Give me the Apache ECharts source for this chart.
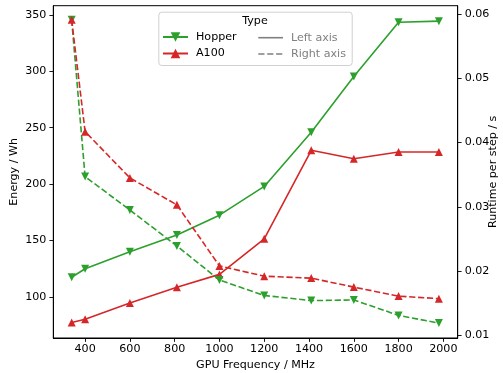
<!DOCTYPE html>
<html>
<head>
<meta charset="utf-8">
<script src="https://cdn.jsdelivr.net/npm/echarts@6/dist/echarts.min.js"></script>
<style>
html,body{margin:0;padding:0;background:#fff;}
#chart{width:503px;height:373px;}
</style>
</head>
<body>
<div id="chart"></div>
<script>
const freq = [340, 400, 600, 810, 1000, 1200, 1410, 1600, 1800, 1980];
const hopperEnergy = [117.5, 125, 140, 155, 172.5, 198, 246, 295.5, 343.5, 344.5];
const a100Energy = [77.4, 80.3, 94.6, 108.5, 120, 151.5, 230, 222.5, 228.5, 228.5];
const hopperRuntime = [0.0591, 0.0347, 0.0295, 0.0239, 0.0186, 0.0162, 0.0154, 0.0155, 0.0131, 0.0119];
const a100Runtime = [0.0591, 0.0417, 0.0345, 0.0303, 0.0208, 0.0192, 0.0189, 0.0175, 0.0161, 0.0157];
const xTicks = [400, 600, 800, 1000, 1200, 1400, 1600, 1800, 2000];
const energyTicks = [100, 150, 200, 250, 300, 350];
const runtimeTicks = [0.01, 0.02, 0.03, 0.04, 0.05, 0.06];

const GREEN = '#2ca02c', RED = '#d62728', GRAY = '#808080';
const FONT = 'DejaVu Sans';
const FS = 11.1;
const pairs = (xs, ys) => xs.map((x, i) => [x, ys[i]]);

const chart = echarts.init(document.getElementById('chart'), null, {renderer: 'canvas'});

function mkSeries(name, data, color, yIdx, dashed, down) {
  return {
    name: name, type: 'line', data: data, xAxisIndex: 0, yAxisIndex: yIdx,
    symbol: 'triangle', symbolSize: 8, symbolRotate: down ? 180 : 0,
    showSymbol: true, animation: false,
    lineStyle: {color: color, width: 1.6, type: dashed ? [6.2, 2.7] : 'solid'},
    itemStyle: {color: color},
    emphasis: {disabled: true}
  };
}

const axisCommon = {
  axisLine: {show: true, lineStyle: {color: '#000', width: 1}},
  axisTick: {show: true, inside: false, length: 3.9, lineStyle: {color: '#000', width: 0.9}},
  splitLine: {show: false},
  nameMoveOverlap: false,
  nameTextStyle: {fontFamily: FONT, fontSize: FS, color: '#000'}
};

const option = {
  backgroundColor: '#fff',
  animation: false,
  grid: {left: 53.3, right: 45.3, top: 5.7, bottom: 35, show: true, borderColor: '#000', borderWidth: 1,
    containLabel: false, outerBoundsMode: 'none'},
  xAxis: [Object.assign({}, axisCommon, {
    type: 'value', min: 258, max: 2064,
    name: 'GPU Frequency / MHz', nameLocation: 'middle', nameGap: 22,
    axisTick: Object.assign({}, axisCommon.axisTick, {customValues: xTicks}),
    axisLabel: {customValues: xTicks, fontFamily: FONT, fontSize: FS, color: '#000', margin: 6,
      formatter: v => String(v)}
  })],
  yAxis: [
    Object.assign({}, axisCommon, {
      type: 'value', position: 'left', min: 63.6, max: 358.2,
      name: 'Energy / Wh', nameLocation: 'middle', nameGap: 34, nameRotate: 90,
      axisTick: Object.assign({}, axisCommon.axisTick, {customValues: energyTicks}),
      axisLabel: {customValues: energyTicks, fontFamily: FONT, fontSize: FS, color: '#000', margin: 7,
        formatter: v => String(v)}
    }),
    Object.assign({}, axisCommon, {
      type: 'value', position: 'right', min: 0.00958, max: 0.0613,
      name: 'Runtime per step / s', nameLocation: 'middle', nameGap: 30, nameRotate: 90,
      axisTick: Object.assign({}, axisCommon.axisTick, {customValues: runtimeTicks}),
      axisLabel: {customValues: runtimeTicks, fontFamily: FONT, fontSize: FS, color: '#000', margin: 7,
        formatter: v => String(+v.toFixed(2))}
    })
  ],
  graphic: [
    {type: 'rect', left: 158.3, top: 11.7, z: 100,
      shape: {width: 193.4, height: 53.3, r: 3},
      style: {fill: 'rgba(255,255,255,0.8)', stroke: '#d0d0d0', lineWidth: 1}},
    {type: 'text', x: 255, y: 21.5, z: 101,
      style: {text: 'Type', fontFamily: FONT, fontSize: FS, fill: '#000', align: 'center', verticalAlign: 'middle'}},
    {type: 'line', z: 101, shape: {x1: 258.3, y1: 37.7, x2: 283, y2: 37.7},
      style: {stroke: GRAY, lineWidth: 1.6}},
    {type: 'line', z: 101, shape: {x1: 258.3, y1: 54, x2: 283, y2: 54},
      style: {stroke: GRAY, lineWidth: 1.6, lineDash: [6.2, 2.7]}},
    {type: 'text', x: 291, y: 38, z: 101,
      style: {text: 'Left axis', fontFamily: FONT, fontSize: FS, fill: GRAY, align: 'left', verticalAlign: 'middle'}},
    {type: 'text', x: 291, y: 54.3, z: 101,
      style: {text: 'Right axis', fontFamily: FONT, fontSize: FS, fill: GRAY, align: 'left', verticalAlign: 'middle'}}
  ],
  legend: [
    {left: 162, top: 31.5, orient: 'vertical', padding: 0, itemGap: 5.5, itemWidth: 25, itemHeight: 12, z: 102,
      selectedMode: false,
      data: ['Hopper', 'A100'],
      textStyle: {fontFamily: FONT, fontSize: FS, color: '#000', padding: [0, 0, 0, 3]}}
  ],
  series: [
    mkSeries('Hopper', pairs(freq, hopperEnergy), GREEN, 0, false, true),
    mkSeries('A100', pairs(freq, a100Energy), RED, 0, false, false),
    mkSeries('Hopper runtime', pairs(freq, hopperRuntime), GREEN, 1, true, true),
    mkSeries('A100 runtime', pairs(freq, a100Runtime), RED, 1, true, false)
  ]
};
chart.setOption(option);
</script>
</body>
</html>
